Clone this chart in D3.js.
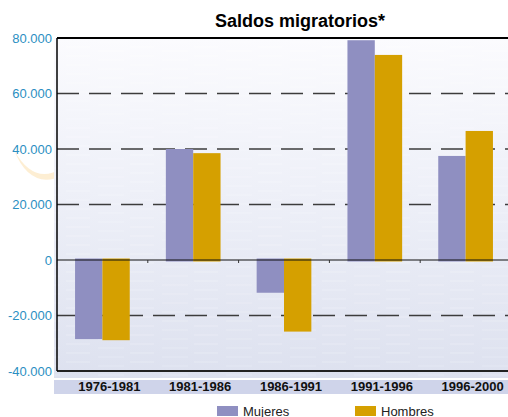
<!DOCTYPE html>
<html>
<head>
<meta charset="utf-8">
<script src="https://cdn.jsdelivr.net/npm/d3@7"></script>
<style>
  html, body { margin: 0; padding: 0; background: #ffffff; }
  svg { display: block; font-family: Arial, "Liberation Sans", sans-serif; }
</style>
</head>
<body>
<svg id="chart" width="508" height="417"></svg>
<script>
const title = "Saldos migratorios*";
const categories = ["1976-1981", "1981-1986", "1986-1991", "1991-1996", "1996-2000"];
const seriesNames = ["Mujeres", "Hombres"];
const mujeres = [-28500, 40000, -11800, 79200, 37500];
const hombres = [-28900, 38500, -25800, 73900, 46500];
const yTicks = [-40000, -20000, 0, 20000, 40000, 60000, 80000];
const gridTicks = [-20000, 20000, 40000, 60000];
const colors = ["#8f8fc1", "#d5a000"];

(function () {
const svg = d3.select("#chart");
const pLeft = 57, pRight = 511, pTop = 38, pBottom = 371;

const x = d3.scaleBand().domain(categories).range([pLeft, pRight]).padding(0);
const x1 = d3.scaleBand().domain(seriesNames).range([0, x.bandwidth()]).paddingInner(0).paddingOuter(0.66);
const y = d3.scaleLinear().domain([-40000, 80000]).range([pBottom, pTop]);

const defs = svg.append("defs");
const grad = defs.append("linearGradient").attr("id", "bg").attr("x1", 0).attr("y1", 0).attr("x2", 0).attr("y2", 1);
grad.append("stop").attr("offset", "0%").attr("stop-color", "#fbfbfe");
grad.append("stop").attr("offset", "45%").attr("stop-color", "#eef0f8");
grad.append("stop").attr("offset", "100%").attr("stop-color", "#dde1ef");
const pat = defs.append("pattern").attr("id", "streaks").attr("patternUnits", "userSpaceOnUse")
  .attr("width", 64).attr("height", 9);
pat.append("line").attr("x1", 2).attr("x2", 26).attr("y1", 2).attr("y2", 2).attr("stroke", "#fff").attr("stroke-width", 1).attr("opacity", 0.25);
pat.append("line").attr("x1", 34).attr("x2", 60).attr("y1", 6).attr("y2", 6).attr("stroke", "#fff").attr("stroke-width", 1).attr("opacity", 0.2);

// faint watermark crescent (decoration)
svg.append("path")
  .attr("d", "M14,150 Q34,186 62,168 L62,176 Q30,190 14,150 Z")
  .attr("fill", "#fbe3b5").attr("opacity", 0.6);

// plot background
svg.append("rect").attr("x", 54).attr("y", pTop).attr("width", 508 - 54).attr("height", 378 - pTop)
  .attr("fill", "url(#bg)");
svg.append("rect").attr("x", 54).attr("y", pTop).attr("width", 508 - 54).attr("height", 378 - pTop)
  .attr("fill", "url(#streaks)");

// category band
svg.append("rect").attr("x", 54).attr("y", 380).attr("width", 508 - 54).attr("height", 14)
  .attr("fill", "#cfd4ea");

// dashed gridlines
svg.append("g").selectAll("line").data(gridTicks).join("line")
  .attr("x1", pLeft).attr("x2", 508)
  .attr("y1", d => y(d)).attr("y2", d => y(d))
  .attr("stroke", "#3c3c3c").attr("stroke-width", 1.4)
  .attr("stroke-dasharray", "22,10");

// bars
const data = categories.map((c, i) => ({ c, vals: [mujeres[i], hombres[i]] }));
const groups = svg.append("g").selectAll("g").data(data).join("g")
  .attr("transform", d => `translate(${x(d.c)},0)`);
groups.selectAll("rect").data(d => d.vals.map((v, j) => ({ v, s: seriesNames[j], j }))).join("rect")
  .attr("x", d => x1(d.s))
  .attr("width", x1.bandwidth())
  .attr("y", d => d.v >= 0 ? y(d.v) : y(0) - 1.5)
  .attr("height", d => Math.abs(y(d.v) - y(0)) + 1.5)
  .attr("fill", d => colors[d.j]);

// zero line with ticks
svg.append("line").attr("x1", pLeft).attr("x2", 508).attr("y1", y(0)).attr("y2", y(0))
  .attr("stroke", "#111").attr("stroke-width", 1.2);
svg.append("g").selectAll("line").data(categories.slice(1)).join("line")
  .attr("x1", d => x(d)).attr("x2", d => x(d))
  .attr("y1", y(0)).attr("y2", y(0) + 3)
  .attr("stroke", "#333").attr("stroke-width", 1);

// frame lines
svg.append("line").attr("x1", pLeft).attr("x2", 508).attr("y1", pTop).attr("y2", pTop)
  .attr("stroke", "#000").attr("stroke-width", 2);
svg.append("line").attr("x1", pLeft).attr("x2", 508).attr("y1", pBottom).attr("y2", pBottom)
  .attr("stroke", "#222").attr("stroke-width", 2);
svg.append("line").attr("x1", pLeft).attr("x2", pLeft).attr("y1", pTop).attr("y2", pBottom)
  .attr("stroke", "#000").attr("stroke-width", 1.5);

// y axis labels
const fmt = v => v === 0 ? "0" : d3.format(",")(v).replace(/,/g, ".").replace("\u2212", "-");
svg.append("g").selectAll("text").data(yTicks).join("text")
  .attr("x", 52).attr("y", d => y(d)).attr("dy", "0.35em")
  .attr("text-anchor", "end")
  .attr("font-size", 13).attr("fill", "#2b8fc2")
  .text(d => fmt(d));

// x labels
svg.append("g").selectAll("text").data(categories).join("text")
  .attr("x", d => x(d) + x.bandwidth() / 2 + 7).attr("y", 391)
  .attr("text-anchor", "middle")
  .attr("font-size", 13).attr("font-weight", "bold").attr("fill", "#111")
  .text(d => d);

// title
svg.append("text").attr("x", 300).attr("y", 27).attr("text-anchor", "middle")
  .attr("font-size", 18).attr("font-weight", "bold").attr("fill", "#000")
  .text(title);

// legend
const legX = [217, 355];
const leg = svg.append("g").selectAll("g").data(seriesNames).join("g")
  .attr("transform", (d, i) => `translate(${legX[i]},406)`);
leg.append("rect").attr("width", 21).attr("height", 10).attr("fill", (d, i) => colors[i]);
leg.append("text").attr("x", 26).attr("y", 9.5).attr("font-size", 13).attr("fill", "#222").text(d => d);
})();
</script>
</body>
</html>
